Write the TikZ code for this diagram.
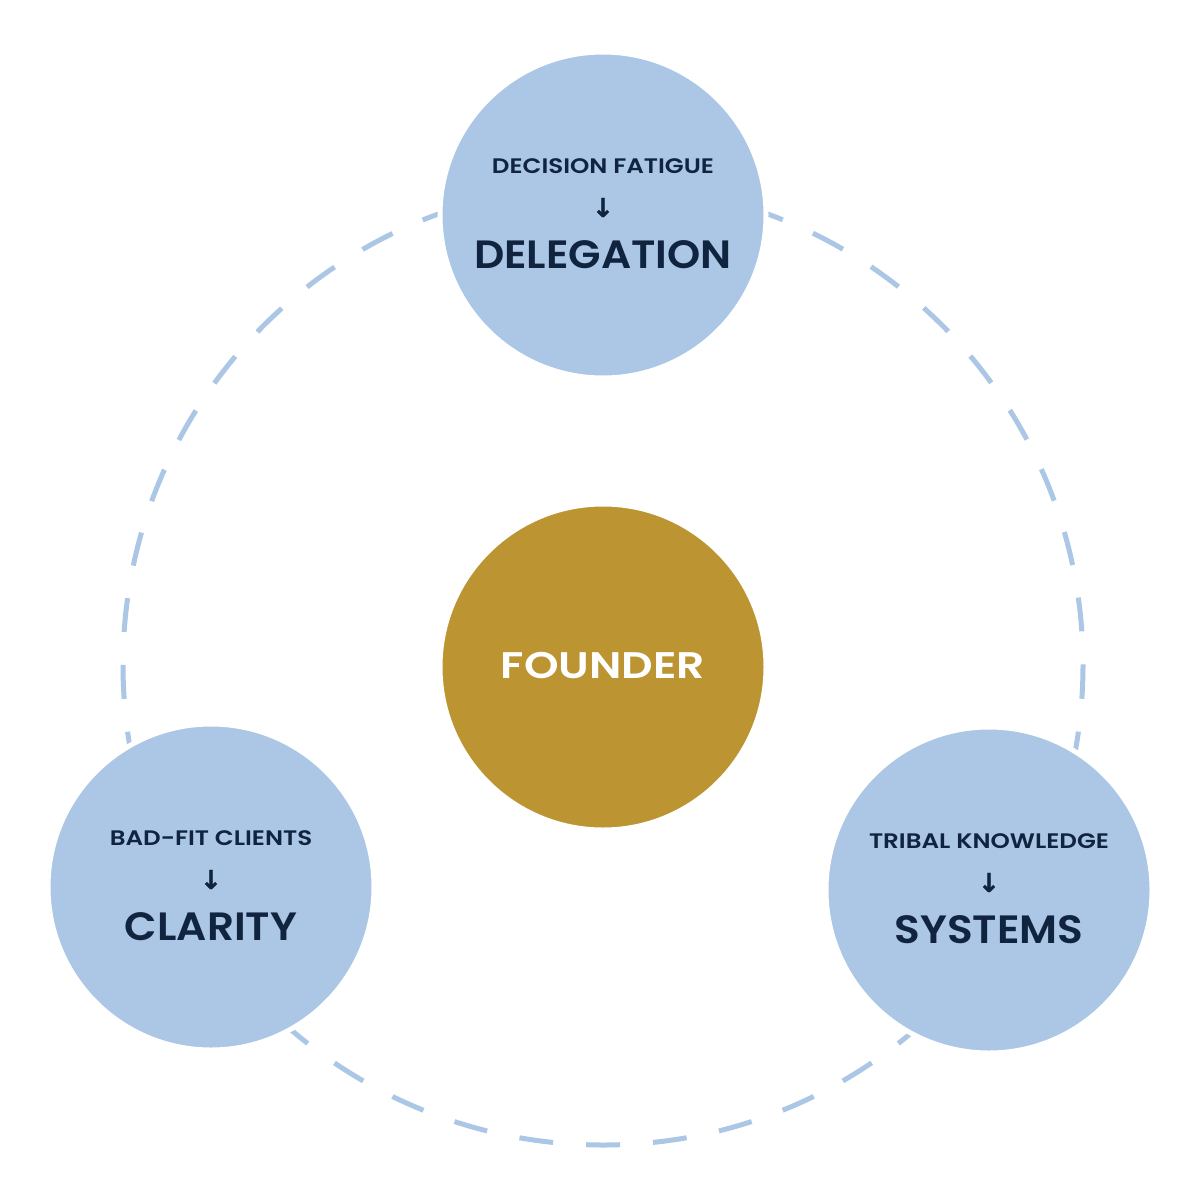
\documentclass[tikz,border=0pt]{standalone}
\usepackage{fontspec}
\setmainfont{Poppins}[BoldFont={Poppins SemiBold}]
\newfontfamily\arrowfont{DejaVu Sans Bold}[FakeBold=1.2]
\usetikzlibrary{calc}
\definecolor{bub}{HTML}{ABC7E5}
\definecolor{gold}{HTML}{BC9532}
\definecolor{navy}{HTML}{10243F}
\newcommand{\wsmall}[1]{\scalebox{1.17}[1]{#1}}
\newcommand{\wbig}[1]{\scalebox{1.07}[1]{#1}}
\newcommand{\wcore}[1]{\scalebox{1.19}[1]{#1}}
\tikzset{
  bubble/.style={circle, fill=bub, draw=white, line width=5, minimum size=326, inner sep=0},
  core/.style={bubble, fill=gold},
  smalltxt/.style={anchor=base, text=navy, inner sep=0, font=\fontsize{21}{25}\selectfont\bfseries},
  bigtxt/.style={anchor=base, text=navy, inner sep=0, font=\fontsize{39.5}{46}\selectfont\bfseries},
  coretxt/.style={anchor=base, text=white, inner sep=0, font=\fontsize{37}{44}\selectfont\bfseries},
  arr/.style={anchor=center, text=navy, inner sep=0, font=\fontsize{26}{30}\selectfont\arrowfont},
  ring/.style={bub, line width=5, dash pattern=on 34 off 33.02, dash phase=0.2}
}
\begin{document}
\begin{tikzpicture}[x=1pt,y=-1pt]
\useasboundingbox[fill=white] (0,0) rectangle (1200,1200);
\draw[ring] (603,665) circle[radius=480];
\node[core] (founder) at (603,667) {};
\node[bubble] (top) at (603,215) {};
\node[bubble] (left) at (211,887) {};
\node[bubble] (right) at (989,890) {};
\node[coretxt] (ftxt) at ($(founder.center)+(0,11)$) {\wcore{FOUNDER}};
\node[smalltxt] (ts) at ($(top.center)+(0,-42)$) {\wsmall{DECISION FATIGUE}};
\node[arr] (ta) at ($(top.center)+(0,-7.5)$) {↓};
\node[bigtxt] (tb) at ($(top.center)+(0,53)$) {\wbig{DELEGATION}};
\node[smalltxt] (ls) at ($(left.center)+(0,-42)$) {\wsmall{BAD-FIT CLIENTS}};
\node[arr] (la) at ($(left.center)+(0,-7.5)$) {↓};
\node[bigtxt] (lb) at ($(left.center)+(0,53)$) {\wbig{CLARITY}};
\node[smalltxt] (rs) at ($(right.center)+(0,-42)$) {\wsmall{TRIBAL KNOWLEDGE}};
\node[arr] (ra) at ($(right.center)+(0,-7.5)$) {↓};
\node[bigtxt] (rb) at ($(right.center)+(0,53)$) {\wbig{SYSTEMS}};
\end{tikzpicture}
\end{document}
